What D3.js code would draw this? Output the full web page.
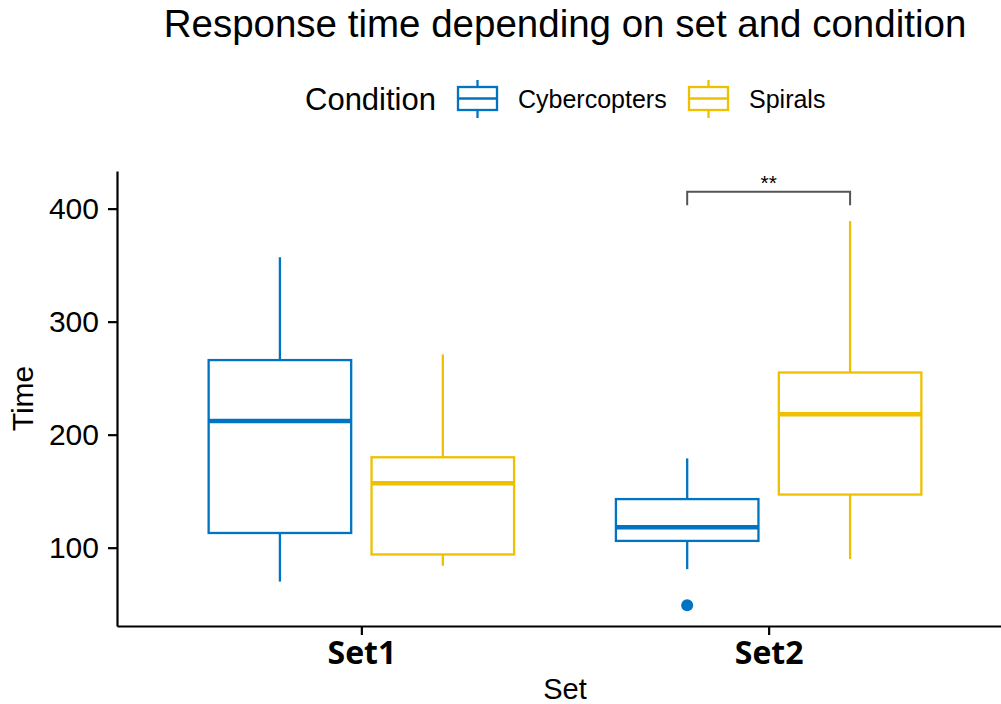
<!DOCTYPE html>
<html>
<head>
<meta charset="utf-8">
<style>
    body
    {
        margin:0;
        background:#ffffff;
    }
    text
    {
        font-family:"Liberation Sans", Arial, Helvetica, sans-serif;
        fill:#000000;
    }
</style>
<script type="text/javascript" src="https://d3js.org/d3.v7.min.js"></script>
</head>
<body>
<svg id="chart"></svg>
<script>
    // categories
    var sets = ["Set1", "Set2"];
    var conditions = ["Cybercopters", "Spirals"];
    var conditionColors = ["#0073C2", "#EFC000"];

    // one entry per box (set x condition)
    var boxSet       = ["Set1", "Set1", "Set2", "Set2"];
    var boxCondition = ["Cybercopters", "Spirals", "Cybercopters", "Spirals"];
    var whiskerLow   = [70, 84, 81, 90];
    var q1           = [113, 94, 106, 147];
    var median       = [212, 157, 118, 218];
    var q3           = [266, 180, 143, 255];
    var whiskerHigh  = [357, 271, 179, 389];

    // outliers
    var outlierSet       = ["Set2"];
    var outlierCondition = ["Cybercopters"];
    var outlierValue     = [49];

    // significance bracket
    var bracketSet    = ["Set2"];
    var bracketTop    = [415];
    var bracketTip    = [403];
    var bracketLabel  = ["**"];

    var yTicks = [100, 200, 300, 400];

    var screen = {width:1001, height:704};
    var panel = {left:117, right:1013, top:171, bottom:626};

    var svg = d3.select("#chart")
        .attr("width", screen.width)
        .attr("height", screen.height);

    // y domain with ggplot-style 5% expansion
    var allValues = whiskerLow.concat(whiskerHigh, outlierValue, bracketTop);
    var yMin = d3.min(allValues), yMax = d3.max(allValues);
    var pad = (yMax - yMin) * 0.05;

    var yScale = d3.scaleLinear()
        .domain([yMin - pad, yMax + pad])
        .range([panel.bottom, panel.top]);

    var xScale = d3.scalePoint()
        .domain(sets)
        .range([panel.left, panel.right])
        .padding(0.6);

    var step = xScale.step();
    var dodge = d3.scalePoint()
        .domain(conditions)
        .range([-0.2 * step, 0.2 * step]);
    var boxWidth = 0.35 * step;

    var color = d3.scaleOrdinal()
        .domain(conditions)
        .range(conditionColors);

    var centerX = function(set, cond)
    {
        return xScale(set) + dodge(cond);
    }

    var boxes = d3.range(boxSet.length).map(function(i)
    {
        return {set:boxSet[i], cond:boxCondition[i], lo:whiskerLow[i],
                q1:q1[i], med:median[i], q3:q3[i], hi:whiskerHigh[i]};
    });

    var boxG = svg.append("g")
        .selectAll("g")
        .data(boxes)
        .enter()
        .append("g")
        .attr("stroke", function(d){ return color(d.cond); })
        .attr("fill", "none");

    // whiskers
    boxG.append("line")
        .attr("x1", function(d){ return centerX(d.set, d.cond); })
        .attr("x2", function(d){ return centerX(d.set, d.cond); })
        .attr("y1", function(d){ return yScale(d.q3); })
        .attr("y2", function(d){ return yScale(d.hi); })
        .attr("stroke-width", 2.3);
    boxG.append("line")
        .attr("x1", function(d){ return centerX(d.set, d.cond); })
        .attr("x2", function(d){ return centerX(d.set, d.cond); })
        .attr("y1", function(d){ return yScale(d.q1); })
        .attr("y2", function(d){ return yScale(d.lo); })
        .attr("stroke-width", 2.3);

    // box
    boxG.append("rect")
        .attr("x", function(d){ return centerX(d.set, d.cond) - boxWidth / 2; })
        .attr("y", function(d){ return yScale(d.q3); })
        .attr("width", boxWidth)
        .attr("height", function(d){ return yScale(d.q1) - yScale(d.q3); })
        .attr("fill", "#ffffff")
        .attr("stroke-width", 2.3);

    // median
    boxG.append("line")
        .attr("x1", function(d){ return centerX(d.set, d.cond) - boxWidth / 2; })
        .attr("x2", function(d){ return centerX(d.set, d.cond) + boxWidth / 2; })
        .attr("y1", function(d){ return yScale(d.med); })
        .attr("y2", function(d){ return yScale(d.med); })
        .attr("stroke-width", 4.5);

    // outliers
    svg.append("g")
        .selectAll("circle")
        .data(d3.range(outlierValue.length))
        .enter()
        .append("circle")
        .attr("cx", function(i){ return centerX(outlierSet[i], outlierCondition[i]); })
        .attr("cy", function(i){ return yScale(outlierValue[i]); })
        .attr("r", 6)
        .attr("fill", function(i){ return color(outlierCondition[i]); });

    // significance bracket
    var bracketG = svg.append("g");
    bracketSet.forEach(function(set, i)
    {
        var xa = centerX(set, conditions[0]);
        var xb = centerX(set, conditions[1]);
        bracketG.append("path")
            .attr("d", "M" + xa + "," + yScale(bracketTip[i]) +
                       "V" + yScale(bracketTop[i]) +
                       "H" + xb +
                       "V" + yScale(bracketTip[i]))
            .attr("fill", "none")
            .attr("stroke", "#555555")
            .attr("stroke-width", 2);
        bracketG.append("text")
            .attr("x", (xa + xb) / 2)
            .attr("y", yScale(bracketTop[i]) - 2)
            .attr("text-anchor", "middle")
            .style("font-size", "21px")
            .text(bracketLabel[i]);
    });

    // axes
    var yAxis = svg.append("g")
        .attr("transform", "translate(" + panel.left + ",0)")
        .call(d3.axisLeft(yScale).tickValues(yTicks).tickSizeInner(9).tickSizeOuter(0).tickPadding(9));
    yAxis.selectAll("text")
        .style("font-size", "30px")
        .style("font-family", "'Liberation Sans', Arial, sans-serif")
        .attr("fill", "#000000");

    var xAxis = svg.append("g")
        .attr("transform", "translate(0," + panel.bottom + ")")
        .call(d3.axisBottom(xScale).tickSizeInner(9).tickSizeOuter(0).tickPadding(6));
    xAxis.selectAll("text")
        .style("font-size", "32px")
        .style("font-weight", "bold")
        .style("font-family", "'Open Sans', 'Noto Sans', sans-serif")
        .attr("fill", "#000000");

    svg.selectAll(".domain, .tick line")
        .attr("stroke", "#000000")
        .attr("stroke-width", 2.2);

    // axis titles
    var midX = (panel.left + panel.right) / 2;
    svg.append("text")
        .attr("x", midX)
        .attr("y", 699)
        .attr("text-anchor", "middle")
        .style("font-size", "29px")
        .text("Set");

    svg.append("text")
        .attr("transform", "translate(33," + ((panel.top + panel.bottom) / 2) + ") rotate(-90)")
        .attr("text-anchor", "middle")
        .style("font-size", "30px")
        .text("Time");

    // title
    svg.append("text")
        .attr("x", midX)
        .attr("y", 37)
        .attr("text-anchor", "middle")
        .style("font-size", "38.5px")
        .text("Response time depending on set and condition");

    // legend
    var legend = svg.append("g");
    legend.append("text")
        .attr("x", 305)
        .attr("y", 110)
        .style("font-size", "31px")
        .text("Condition");

    var keyX = [458, 689];
    var keyW = 39;
    conditions.forEach(function(cond, i)
    {
        var g = legend.append("g")
            .attr("stroke", color(cond))
            .attr("fill", "none")
            .attr("stroke-width", 2.3);
        g.append("line")
            .attr("x1", keyX[i] + keyW / 2).attr("x2", keyX[i] + keyW / 2)
            .attr("y1", 80).attr("y2", 118);
        g.append("rect")
            .attr("x", keyX[i]).attr("y", 87)
            .attr("width", keyW).attr("height", 23)
            .attr("fill", "#ffffff");
        g.append("line")
            .attr("x1", keyX[i]).attr("x2", keyX[i] + keyW)
            .attr("y1", 98.5).attr("y2", 98.5);
        legend.append("text")
            .attr("x", keyX[i] + keyW + 21)
            .attr("y", 108)
            .style("font-size", "25px")
            .text(cond);
    });
</script>
</body>
</html>
